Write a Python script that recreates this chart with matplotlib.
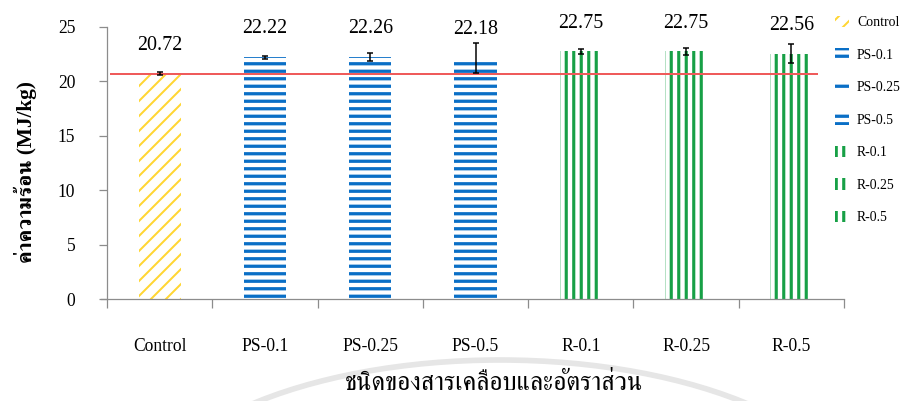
import matplotlib
matplotlib.use("Agg")
import matplotlib.pyplot as plt
from matplotlib import font_manager
from matplotlib.ft2font import FT2Font
from matplotlib.patches import Arc

categories = ["Control", "PS-0.1", "PS-0.25", "PS-0.5", "R-0.1", "R-0.25", "R-0.5"]
heat_values = [20.72, 22.22, 22.26, 22.18, 22.75, 22.75, 22.56]
heat_errors = [0.12, 0.15, 0.35, 1.37, 0.25, 0.30, 0.85]
y_ticks = [0, 5, 10, 15, 20, 25]

y_label = "ค่าความร้อน (MJ/kg)"
x_label = "ชนิดของสารเคลือบและอัตราส่วน"

# colour, hatch, hatch width for each coating group
group_style = {
    "Control": ("#FFD633", "//", 1.6),
    "PS": ("#0A6FC6", "--", 2.6),
    "R": ("#17A046", "||", 2.5),
}


def thai_family():
    """first installed family that has Thai glyphs (serif ones first)"""
    found = []
    for f in font_manager.fontManager.ttflist:
        try:
            if 0x0E04 in FT2Font(f.fname).get_charmap():
                found.append(f.name)
        except Exception:
            continue
    if not found:
        return "DejaVu Sans"
    found.sort(key=lambda n: 0 if "Serif" in n else 1)
    return found[0]


def hatch_width(patch, lw):
    if hasattr(patch, "set_hatch_linewidth"):
        patch.set_hatch_linewidth(lw)


THAI = thai_family()
SERIF = "Liberation Serif"
plt.rcParams["font.family"] = [SERIF, THAI]

DPI = 90
fig = plt.figure(figsize=(904 / DPI, 401 / DPI), dpi=DPI)
ax = fig.add_axes([100.7 / 904, 1 - 299 / 401, 743.3 / 904, 272 / 401])

x = list(range(len(categories)))
hatch_lws = []
for i, name in enumerate(categories):
    color, hatch, hlw = group_style[name.split("-")[0]]
    hatch_lws.append(hlw)
    with plt.rc_context({"hatch.linewidth": hlw}):
        bars = ax.bar(i, heat_values[i], width=0.4, facecolor="white",
                      edgecolor=color, linewidth=0, hatch=hatch, label=name,
                      zorder=2)
    for b in bars:
        hatch_width(b, hlw)

# control level across the chart
ax.hlines(heat_values[0], -0.47, 6.25, color="#EF5B5B", lw=1.6, zorder=3)

ax.errorbar(x, heat_values, yerr=heat_errors, fmt="none", ecolor="black",
            elinewidth=1.2, capsize=2.8, capthick=1.2, zorder=4)

for i, v in enumerate(heat_values):
    ax.text(i, v + 2.6, f"{v:.2f}", ha="center", va="center", fontsize=16)

ax.set_xlim(-0.56, 6.5)
ax.set_ylim(0, 25)
ax.set_yticks(y_ticks)
ax.spines["left"].set_position(("data", -0.5))
for side in ("top", "right"):
    ax.spines[side].set_visible(False)
for side in ("left", "bottom"):
    ax.spines[side].set_color("#8C8C8C")
    ax.spines[side].set_linewidth(1.0)

# boundaries carry the tick marks, centres carry the names
ax.set_xticks([i - 0.5 for i in range(len(categories) + 1)])
ax.set_xticklabels([])
ax.set_xticks(x, minor=True)
ax.set_xticklabels(categories, minor=True, fontsize=14)
ax.tick_params(axis="x", which="major", length=7, width=1.0, color="#8C8C8C")
ax.tick_params(axis="x", which="minor", length=0, pad=31)
ax.tick_params(axis="y", length=6.4, width=1.0, color="#8C8C8C", pad=19,
               labelsize=14)

fig.text(25 / 904, 1 - 172 / 401, y_label, rotation=90, ha="center",
         va="center", fontsize=17, fontweight="bold")
fig.text(494 / 904, 1 - 383 / 401, x_label, ha="center", va="center",
         fontsize=20.5)

leg = ax.legend(loc="upper left", bbox_to_anchor=(835 / 904, 1 - 16 / 401),
                bbox_transform=fig.transFigure, frameon=False, fontsize=11,
                labelspacing=1.38, handlelength=1.0, handleheight=0.9,
                handletextpad=0.6, borderpad=0, borderaxespad=0)
for patch, hlw in zip(leg.get_patches(), hatch_lws):
    hatch_width(patch, hlw)

# faint watermark arc behind the axis title
fig.add_artist(Arc((500 / 904, 1 - 520 / 401), 720 / 904, 320 / 401,
                   theta1=0, theta2=180, transform=fig.transFigure,
                   color="#E6E6E6", lw=4.5, zorder=0))

fig.savefig("out.png", dpi=DPI)
